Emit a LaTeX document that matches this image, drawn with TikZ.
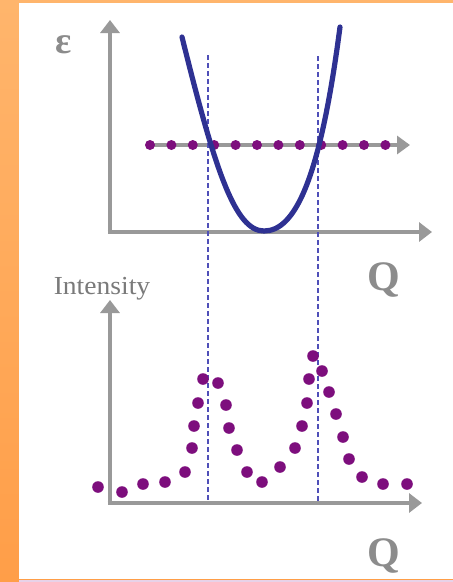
\documentclass[tikz,border=0pt]{standalone}
\usepackage{fontspec}
\setmainfont{Liberation Serif}
\usetikzlibrary{arrows.meta}
\definecolor{bgtop}{HTML}{FFB56C}
\definecolor{bgbot}{HTML}{FF9E48}
\definecolor{axisgray}{HTML}{999999}
\definecolor{textgray}{HTML}{8C8C8C}
\definecolor{labelgray}{HTML}{7A7A7A}
\definecolor{dotpurple}{HTML}{7D0E7D}
\definecolor{curveblue}{HTML}{2E3192}
\definecolor{dashblue}{HTML}{4F4FB8}
\definecolor{pinkline}{HTML}{E8D2E8}
\begin{document}
\begin{tikzpicture}[x=1pt,y=-1pt,
  axis/.style={draw=axisgray, line width=4.6pt, -{Triangle[length=13pt,width=19pt]}},
  dotaxis/.style={draw=axisgray, line width=4.6pt, -{Triangle[length=13pt,width=18pt]}},
  dot/.style={fill=dotpurple},
  curve/.style={draw=curveblue, line width=5.2pt, line cap=round},
  guide/.style={draw=dashblue, line width=1.2pt, dash pattern=on 5pt off 3pt},
  qlabel/.style={text=textgray, font=\fontsize{42}{42}\selectfont\bfseries, anchor=base, inner sep=0pt},
  ylabel/.style={text=labelgray, inner sep=0pt}]
\useasboundingbox (0,0) rectangle (453,582);
\shade[top color=bgtop, bottom color=bgbot] (0,0) rectangle (453,582);
\fill[white] (19,3) rectangle (453,579);
\fill[pinkline] (19,579.5) rectangle (453,582);

% top panel
\coordinate (o1) at (110,232);
\coordinate (y1) at (110,20);
\coordinate (x1) at (432,232);
\coordinate (d0) at (148,145);
\coordinate (d1) at (410,145);
\draw[axis] ([yshift=2.3pt]o1) -- (y1);
\draw[axis] ([xshift=-2.3pt]o1) -- (x1);
\draw[dotaxis] (d0) -- (d1);
\foreach \k in {0,...,11} \fill[dot] (150+21.4*\k,145) circle (5);

% guides
\coordinate (g1t) at (208,55);
\coordinate (g1b) at (208,503);
\coordinate (g2t) at (318,56);
\coordinate (g2b) at (318,503);
\draw[guide] (g1t) -- (g1b);
\draw[guide] (g2t) -- (g2b);

\coordinate (cl) at (182,37);
\coordinate (cm) at (264,231);
\coordinate (cr) at (340,27);
\draw[curve] (cl) .. controls (215,170) and (235,231) .. (cm)
  .. controls (295,231) and (320,180) .. (cr);

\node[ylabel, text=textgray, font=\fontsize{38}{38}\selectfont\bfseries, anchor=base] (eps) at (64,53) {ε};
\node[qlabel] (q1) at (384,290) {Q};

% bottom panel
\coordinate (o2) at (110,503);
\coordinate (y2) at (110,300);
\coordinate (x2) at (422,503);
\draw[axis] ([yshift=2.3pt]o2) -- (y2);
\draw[axis] ([xshift=-2.3pt]o2) -- (x2);
\node[ylabel, font=\fontsize{26}{26}\selectfont, anchor=base, xscale=1.06] (int) at (102,294) {Intensity};
\node[qlabel] (q2) at (384,566) {Q};

\foreach \p in {(98,487),(122,492),(143,484),(165,482),(185,472),(192,448),(194,426),(198,403),(203,379),(218,383),(226,405),(229,428),(237,450),(247,472),(262,482),(280,467),(295,448),(302,426),(307,403),(309,379),(313,356),(322,371),(329,392),(336,414),(343,437),(349,459),(362,477),(383,484),(407,484)}
  \fill[dot] \p circle (5.8);
\end{tikzpicture}
\end{document}
